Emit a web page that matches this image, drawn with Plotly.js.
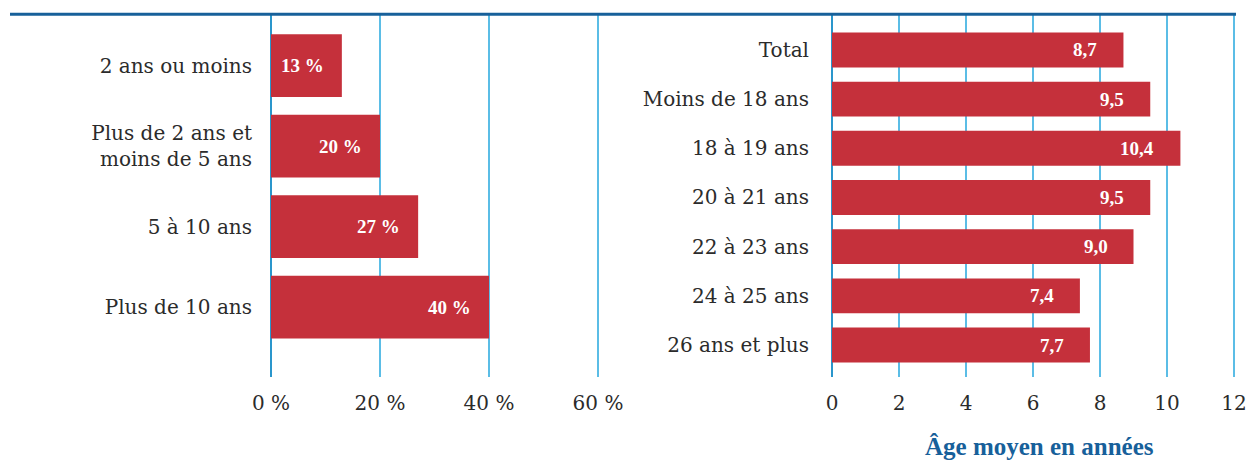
<!DOCTYPE html>
<html>
<head>
<meta charset="utf-8">
<script src="https://cdn.plot.ly/plotly-3.0.1.min.js"></script>
<style>
  html, body { margin: 0; padding: 0; background: #ffffff; }
  #chart { width: 1248px; height: 462px; }
</style>
</head>
<body>
<div id="chart"></div>
<script>
// ---- Data ----
const leftCategories = ['2 ans ou moins', 'Plus de 2 ans et<br>moins de 5 ans', '5 à 10 ans', 'Plus de 10 ans'];
const leftValues = [13, 20, 27, 40];
const leftLabels = ['13 %', '20 %', '27 %', '40 %'];
const leftTickVals = [0, 20, 40, 60];
const leftTickText = ['0 %', '20 %', '40 %', '60 %'];

const rightCategories = ['Total', 'Moins de 18 ans', '18 à 19 ans', '20 à 21 ans', '22 à 23 ans', '24 à 25 ans', '26 ans et plus'];
const rightValues = [8.7, 9.5, 10.4, 9.5, 9.0, 7.4, 7.7];
const rightLabels = ['8,7', '9,5', '10,4', '9,5', '9,0', '7,4', '7,7'];
const rightTickVals = [0, 2, 4, 6, 8, 10, 12];
const rightTickText = ['0', '2', '4', '6', '8', '10', '12'];

const xTitle = 'Âge moyen en années';

// ---- Styles ----
const W = 1248, H = 462;
const barColor = '#c5303b';
const gridColor = '#5bbde6';
const zeroColor = '#2a96cc';
const textColor = '#2b2b2b';
const blue = '#17609a';
const font = 'DejaVu Serif, Liberation Serif, serif';
const boldFont = 'Liberation Serif, DejaVu Serif, serif';

const px = v => v / W;
const py = v => 1 - v / H;

const traces = [
  {
    type: 'bar', orientation: 'h',
    x: leftValues, y: leftCategories,
    xaxis: 'x', yaxis: 'y',
    marker: { color: barColor },
    width: 0.78,
    hoverinfo: 'skip'
  },
  {
    type: 'bar', orientation: 'h',
    x: rightValues, y: rightCategories,
    xaxis: 'x2', yaxis: 'y2',
    marker: { color: barColor },
    width: 0.71,
    hoverinfo: 'skip'
  }
];

const annotations = [];
leftValues.forEach((v, i) => {
  annotations.push({
    xref: 'x', yref: 'y', x: v, y: leftCategories[i],
    text: '<b>' + leftLabels[i] + '</b>', showarrow: false,
    xanchor: 'right', yanchor: 'middle', xshift: -16,
    font: { family: boldFont, size: 19, color: '#ffffff' }
  });
});
rightValues.forEach((v, i) => {
  annotations.push({
    xref: 'x2', yref: 'y2', x: v, y: rightCategories[i],
    text: '<b>' + rightLabels[i] + '</b>', showarrow: false,
    xanchor: 'right', yanchor: 'middle', xshift: -24,
    font: { family: boldFont, size: 19, color: '#ffffff' }
  });
});
annotations.push({
  xref: 'paper', yref: 'paper', x: px(1039), y: py(446),
  text: '<b>' + xTitle + '</b>', showarrow: false,
  xanchor: 'center', yanchor: 'middle',
  font: { family: boldFont, size: 25, color: blue }
});

const axisCommon = {
  showgrid: true, gridcolor: gridColor, gridwidth: 1.3,
  zeroline: true, zerolinecolor: zeroColor, zerolinewidth: 1.3,
  showline: false, ticks: '',
  tickfont: { family: font, size: 20, color: textColor },
  ticklabelstandoff: 12,
  fixedrange: true
};

const leftMax = 60.6, rightMax = 12.12;
const leftPxPerUnit = (598 - 271) / 60;
const rightPxPerUnit = (1234 - 832) / 12;

const layout = {
  width: W, height: H,
  margin: { l: 0, r: 0, t: 0, b: 0 },
  paper_bgcolor: '#ffffff', plot_bgcolor: '#ffffff',
  showlegend: false,
  xaxis: Object.assign({}, axisCommon, {
    domain: [px(271), px(271 + leftPxPerUnit * leftMax)],
    range: [0, leftMax],
    tickvals: leftTickVals, ticktext: leftTickText,
    anchor: 'y'
  }),
  yaxis: {
    domain: [py(377), py(15)],
    range: [3.87, -0.63],
    type: 'category',
    showgrid: false, zeroline: false, showline: false, ticks: '',
    tickfont: { family: font, size: 20, color: textColor },
    ticklabelstandoff: 18,
    anchor: 'x', fixedrange: true
  },
  xaxis2: Object.assign({}, axisCommon, {
    domain: [px(832), px(832 + rightPxPerUnit * rightMax)],
    range: [0, rightMax],
    tickvals: rightTickVals, ticktext: rightTickText,
    anchor: 'y2'
  }),
  yaxis2: {
    domain: [py(377), py(15)],
    range: [6.65, -0.71],
    type: 'category',
    showgrid: false, zeroline: false, showline: false, ticks: '',
    tickfont: { family: font, size: 20, color: textColor },
    ticklabelstandoff: 22,
    anchor: 'x2', fixedrange: true
  },
  shapes: [
    {
      type: 'line', xref: 'paper', yref: 'paper',
      x0: px(10), x1: px(1236), y0: py(14.3), y1: py(14.3),
      line: { color: blue, width: 3 }
    }
  ],
  annotations: annotations
};

Plotly.newPlot('chart', traces, layout, { displayModeBar: false, staticPlot: true });
</script>
</body>
</html>
